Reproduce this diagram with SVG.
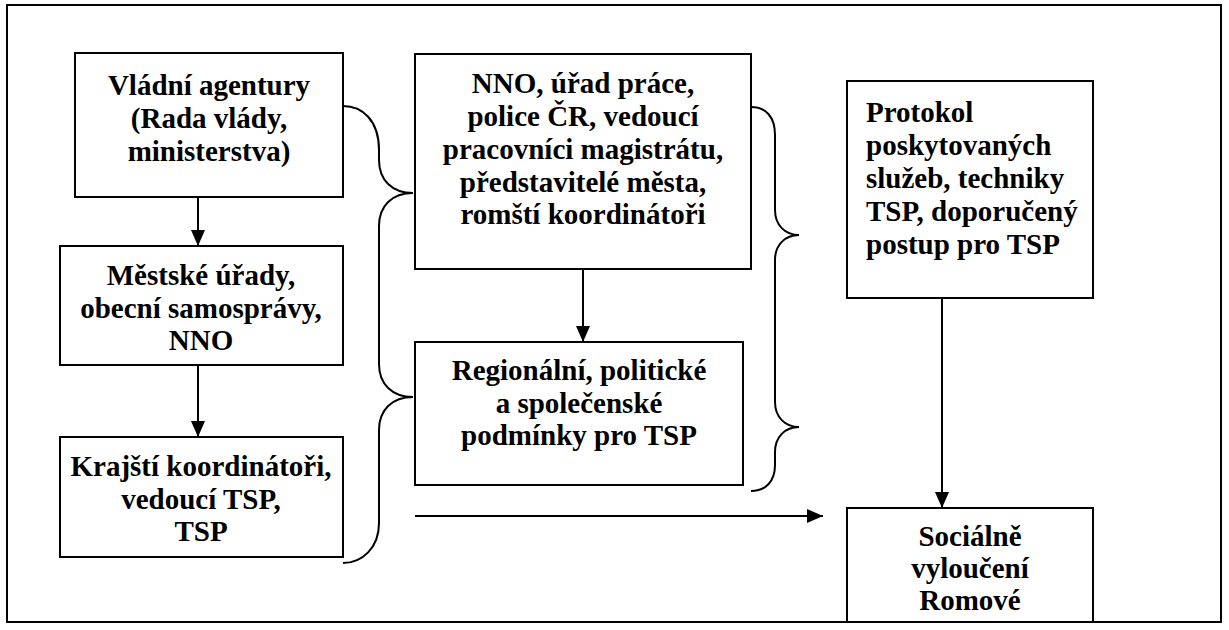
<svg xmlns="http://www.w3.org/2000/svg" width="1229" height="630" viewBox="0 0 1229 630">
<style>
.box{fill:#fff;stroke:#000;stroke-width:2}
.t{font-weight:bold;font-size:29px;fill:#000}
.c{text-anchor:middle}
.ln{fill:none;stroke:#000;stroke-width:2}
</style>
<defs>
<marker id="ah" markerUnits="userSpaceOnUse" markerWidth="18" markerHeight="16" refX="16" refY="7" orient="auto">
<path d="M0,0 L16,7 L0,14 Z" fill="#000"/>
</marker>
</defs>
<rect x="0" y="0" width="1229" height="630" fill="#fff"/>
<rect id="frame" x="7" y="5" width="1214" height="617" fill="none" stroke="#000" stroke-width="2"/>
<g font-family="Liberation Serif, DejaVu Serif, serif">
<g id="n1"><rect class="box" x="75" y="53" width="268" height="144"/>
<text class="t c" x="209" y="95">Vládní agentury</text>
<text class="t c" x="209" y="128">(Rada vlády,</text>
<text class="t c" x="209" y="161">ministerstva)</text></g>
<g id="n2"><rect class="box" x="60" y="246" width="283" height="119"/>
<text class="t c" x="201" y="285">Městské úřady,</text>
<text class="t c" x="201" y="318">obecní samosprávy,</text>
<text class="t c" x="201" y="350">NNO</text></g>
<g id="n3"><rect class="box" x="60" y="437" width="283" height="120"/>
<text class="t c" x="201" y="476">Krajští koordinátoři,</text>
<text class="t c" x="201" y="509">vedoucí TSP,</text>
<text class="t c" x="201" y="541">TSP</text></g>
<g id="n4"><rect class="box" x="415" y="54" width="336" height="215"/>
<text class="t c" x="583" y="93">NNO, úřad práce,</text>
<text class="t c" x="583" y="126">police ČR, vedoucí</text>
<text class="t c" x="583" y="159">pracovníci magistrátu,</text>
<text class="t c" x="583" y="192">představitelé města,</text>
<text class="t c" x="583" y="224">romští koordinátoři</text></g>
<g id="n5"><rect class="box" x="415" y="342" width="328" height="143"/>
<text class="t c" x="579" y="380">Regionální, politické</text>
<text class="t c" x="579" y="413">a společenské</text>
<text class="t c" x="579" y="445">podmínky pro TSP</text></g>
<g id="n6"><rect class="box" x="847" y="81" width="246" height="217"/>
<text class="t" x="866" y="122">Protokol</text>
<text class="t" x="866" y="155">poskytovaných</text>
<text class="t" x="866" y="188">služeb, techniky</text>
<text class="t" x="866" y="221">TSP, doporučený</text>
<text class="t" x="866" y="254">postup pro TSP</text></g>
<g id="n7"><rect class="box" x="847" y="508" width="246" height="114"/>
<text class="t c" x="970" y="546">Sociálně</text>
<text class="t c" x="970" y="578">vyloučení</text>
<text class="t c" x="970" y="610">Romové</text></g>
</g>
<g id="connectors">
<line class="ln" x1="198" y1="197" x2="198" y2="246" marker-end="url(#ah)"/>
<line class="ln" x1="198" y1="365" x2="198" y2="437" marker-end="url(#ah)"/>
<line class="ln" x1="583" y1="269" x2="583" y2="342" marker-end="url(#ah)"/>
<line class="ln" x1="942" y1="298" x2="942" y2="508" marker-end="url(#ah)"/>
<line class="ln" x1="415" y1="516" x2="823" y2="516" marker-end="url(#ah)"/>
<path class="ln" d="M343,106 C362,106 379,120 379,150 L379,160 C379,180 392,193 413,193 C392,193 379,206 379,226 L379,364 C379,384 392,397 413,397 C392,397 379,410 379,430 L379,523 C379,548 362,563 343,563"/>
<path class="ln" d="M751,107 C766,107 775,117 775,135 L775,210 C775,225 785,235 799,235 C785,235 775,245 775,260 L775,402 C775,417 785,427 799,427 C785,427 775,437 775,452 L775,465 C775,481 766,491 751,491"/>
</g>
</svg>
